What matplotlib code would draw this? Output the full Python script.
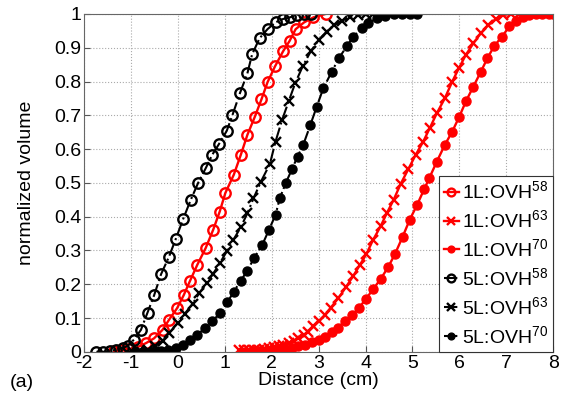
import matplotlib
matplotlib.use("Agg")
import matplotlib.pyplot as plt

plt.rcParams['font.family'] = ['Liberation Sans', 'DejaVu Sans']
plt.rcParams['mathtext.default'] = 'regular'
plt.rcParams['axes.unicode_minus'] = False

# 1L:OVH58 (red open circles)
x_1l58 = [-1.36, -1.21, -1.04, -0.86, -0.68, -0.51, -0.33, -0.19, -0.02, 0.12, 0.26, 0.41,
          0.59, 0.75, 0.89, 1.01, 1.19, 1.34, 1.48, 1.64, 1.78, 1.91, 2.07, 2.24, 2.38,
          2.51, 2.69, 2.89, 3.15]
y_1l58 = [0.001, 0.004, 0.008, 0.014, 0.026, 0.04, 0.065, 0.095, 0.129, 0.167, 0.211, 0.257,
          0.307, 0.361, 0.415, 0.47, 0.524, 0.583, 0.642, 0.696, 0.747, 0.798, 0.845, 0.889, 0.92,
          0.955, 0.975, 0.99, 1.0]

# 1L:OVH63 (red crosses)
x_1l63 = [1.30, 1.40, 1.51, 1.62, 1.72, 1.83, 1.94, 2.04, 2.15, 2.25, 2.36, 2.47, 2.57, 2.68,
          2.78, 2.89, 3.00, 3.14, 3.26, 3.42, 3.58, 3.74, 3.88, 4.02, 4.16, 4.32, 4.46, 4.60,
          4.75, 4.91, 5.07, 5.23, 5.37, 5.52, 5.69, 5.85, 5.99, 6.14, 6.30, 6.46, 6.62, 6.78,
          6.94, 7.10, 7.28, 7.45]
y_1l63 = [0.006, 0.004, 0.004, 0.004, 0.006, 0.008, 0.010, 0.013, 0.016, 0.021, 0.026, 0.031,
          0.040, 0.050, 0.060, 0.075, 0.090, 0.109, 0.131, 0.159, 0.191, 0.225, 0.257, 0.290,
          0.331, 0.371, 0.412, 0.450, 0.497, 0.540, 0.583, 0.622, 0.662, 0.706, 0.750, 0.800,
          0.839, 0.879, 0.913, 0.943, 0.967, 0.985, 0.997, 1.0, 1.0, 1.0]

# 1L:OVH70 (red filled circles)
x_1l70 = [1.44, 1.58, 1.72, 1.87, 2.01, 2.15, 2.29, 2.43, 2.57, 2.71, 2.85, 3.00, 3.14, 3.28,
          3.42, 3.56, 3.72, 3.86, 4.00, 4.16, 4.32, 4.48, 4.63, 4.79, 4.94, 5.10, 5.25, 5.36,
          5.52, 5.69, 5.85, 6.00, 6.14, 6.30, 6.46, 6.60, 6.74, 6.91, 7.07, 7.21, 7.35, 7.49,
          7.63, 7.77, 7.91, 8.0]
y_1l70 = [0.0, 0.001, 0.001, 0.003, 0.004, 0.006, 0.008, 0.011, 0.016, 0.021, 0.028, 0.036,
          0.045, 0.058, 0.072, 0.092, 0.110, 0.130, 0.155, 0.185, 0.215, 0.250, 0.290, 0.340,
          0.390, 0.435, 0.481, 0.514, 0.563, 0.612, 0.652, 0.696, 0.741, 0.785, 0.829, 0.869,
          0.904, 0.933, 0.963, 0.980, 0.990, 0.997, 1.0, 1.0, 1.0, 1.0]

# 5L:OVH58 (black open circles)
x_5l58 = [-1.74, -1.60, -1.46, -1.32, -1.18, -1.07, -0.94, -0.79, -0.65, -0.51, -0.36, -0.19,
          -0.05, 0.11, 0.27, 0.43, 0.59, 0.73, 0.87, 1.04, 1.16, 1.32, 1.48, 1.58, 1.74, 1.91,
          2.08, 2.24, 2.39, 2.54, 2.68, 2.84]
y_5l58 = [0.0, 0.0, 0.003, 0.006, 0.011, 0.018, 0.036, 0.065, 0.116, 0.167, 0.230, 0.282,
          0.333, 0.393, 0.449, 0.500, 0.543, 0.583, 0.614, 0.654, 0.700, 0.765, 0.824, 0.880,
          0.928, 0.955, 0.975, 0.985, 0.990, 0.997, 0.999, 1.0]

# 5L:OVH63 (black crosses)
x_5l63 = [-0.97, -0.83, -0.65, -0.49, -0.33, -0.19, -0.01, 0.14, 0.31, 0.45, 0.61, 0.75, 0.89,
          1.04, 1.18, 1.34, 1.48, 1.61, 1.77, 1.96, 2.08, 2.22, 2.36, 2.50, 2.66, 2.83, 3.00,
          3.17, 3.33, 3.49, 3.67, 3.85, 4.02, 4.16, 4.30]
y_5l63 = [0.0, 0.001, 0.006, 0.016, 0.033, 0.055, 0.085, 0.112, 0.142, 0.173, 0.203, 0.231,
          0.262, 0.297, 0.331, 0.369, 0.410, 0.454, 0.504, 0.556, 0.622, 0.686, 0.741, 0.795,
          0.845, 0.889, 0.923, 0.948, 0.966, 0.980, 0.990, 0.997, 1.0, 1.0, 1.0]

# 5L:OVH70 (black filled circles)
x_5l70 = [-0.90, -0.75, -0.60, -0.45, -0.36, -0.21, -0.04, 0.10, 0.26, 0.41, 0.57, 0.73, 0.89,
          1.05, 1.19, 1.34, 1.48, 1.62, 1.80, 1.94, 2.08, 2.17, 2.30, 2.43, 2.55, 2.67, 2.82,
          2.96, 3.10, 3.28, 3.44, 3.60, 3.74, 3.92, 4.06, 4.24, 4.42, 4.60, 4.78, 4.95, 5.10]
y_5l70 = [0.0, 0.0, 0.0, 0.001, 0.001, 0.006, 0.011, 0.021, 0.036, 0.050, 0.070, 0.090, 0.114,
          0.146, 0.178, 0.211, 0.240, 0.277, 0.317, 0.361, 0.405, 0.454, 0.500, 0.540, 0.578,
          0.612, 0.670, 0.726, 0.780, 0.829, 0.871, 0.904, 0.933, 0.958, 0.973, 0.987, 0.995,
          0.999, 1.0, 1.0, 1.0]

labels = ['1L:OVH$^{58}$', '1L:OVH$^{63}$', '1L:OVH$^{70}$',
          '5L:OVH$^{58}$', '5L:OVH$^{63}$', '5L:OVH$^{70}$']
xticks = list(range(-2, 9))
yticks = [0, 0.1, 0.2, 0.3, 0.4, 0.5, 0.6, 0.7, 0.8, 0.9, 1]
yticklabels = ['0', '0.1', '0.2', '0.3', '0.4', '0.5', '0.6', '0.7', '0.8', '0.9', '1']

fig = plt.figure(figsize=(5.69, 3.98), dpi=100)
ax = fig.add_axes([0.148, 0.116, 0.824, 0.849])

red = '#ff0000'
blk = '#000000'
ms_o = 7.5
mew = 1.7
ax.plot(x_1l58, y_1l58, '-', color=red, lw=1.7, marker='o', ms=ms_o, mfc='none', mec=red, mew=mew, label=labels[0])
ax.plot(x_1l63, y_1l63, '-', color=red, lw=1.7, marker='x', ms=ms_o, mec=red, mew=mew, label=labels[1])
ax.plot(x_1l70, y_1l70, '-', color=red, lw=1.7, marker='o', ms=6.5, mfc=red, mec=red, label=labels[2])
ax.plot(x_5l58, y_5l58, '-.', color=blk, lw=1.5, marker='o', ms=ms_o, mfc='none', mec=blk, mew=mew, label=labels[3])
ax.plot(x_5l63, y_5l63, '-.', color=blk, lw=1.5, marker='x', ms=ms_o, mec=blk, mew=mew, label=labels[4])
ax.plot(x_5l70, y_5l70, '-.', color=blk, lw=1.5, marker='o', ms=6.5, mfc=blk, mec=blk, label=labels[5])

ax.set_xlim(-2, 8)
ax.set_ylim(0, 1)
ax.set_xticks(xticks)
ax.set_yticks(yticks)
ax.set_yticklabels(yticklabels)
ax.tick_params(direction='in', labelsize=14, length=4, color='#555555', pad=2)
ax.grid(True, linestyle=':', color='#aaaaaa', linewidth=0.8)
for s in ax.spines.values():
    s.set_color('#666666')
    s.set_linewidth(0.8)

ax.set_xlabel('Distance (cm)', fontsize=14, labelpad=0)
ax.set_ylabel('normalized volume', fontsize=14, labelpad=14)
fig.text(0.018, 0.028, '(a)', fontsize=14)

leg = ax.legend(loc='lower right', borderaxespad=0, fontsize=14, frameon=True, fancybox=False,
                handlelength=0.8, handletextpad=0.15, labelspacing=0.36, borderpad=0.25,
                markerscale=0.75)
leg.get_frame().set_edgecolor('#333333')
leg.get_frame().set_linewidth(0.8)
leg.get_frame().set_alpha(1)

fig.savefig('out.png', dpi=100)
